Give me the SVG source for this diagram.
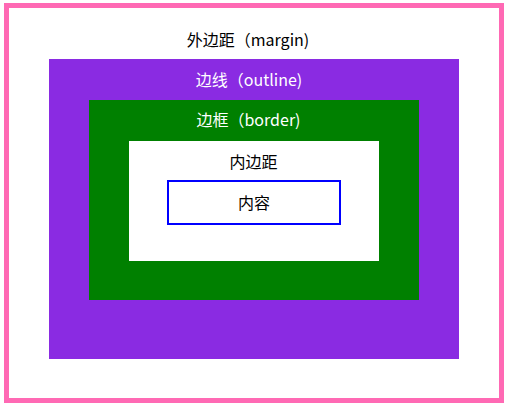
<svg xmlns="http://www.w3.org/2000/svg" width="506" height="404" viewBox="0 0 506 404">
<style>
text{font-family:"Noto Sans CJK SC","Liberation Sans",sans-serif;font-size:16px;text-anchor:middle}
.dark{fill:#000}
.light{fill:#fff}
</style>
<rect width="506" height="404" fill="#fff"/>
<g id="margin">
<rect x="6.5" y="5.5" width="495" height="395" fill="#fff" stroke="#FF69B4" stroke-width="5"/>
<text class="dark" x="248" y="46">外边距（margin)</text>
</g>
<g id="outline">
<rect x="49" y="59" width="410" height="300" fill="#8A2BE2"/>
<text class="light" x="249" y="86">边线（outline)</text>
</g>
<g id="border">
<rect x="89" y="100" width="330" height="200" fill="#008000"/>
<text class="light" x="248.5" y="126">边框（border)</text>
</g>
<g id="padding">
<rect x="129" y="141" width="250" height="120" fill="#fff"/>
<text class="dark" x="253.5" y="168">内边距</text>
</g>
<g id="content">
<rect x="168" y="181" width="172" height="43" fill="#fff" stroke="#0000FF" stroke-width="2"/>
<text class="dark" x="254" y="209">内容</text>
</g>
<g id="connectors"/>
</svg>
